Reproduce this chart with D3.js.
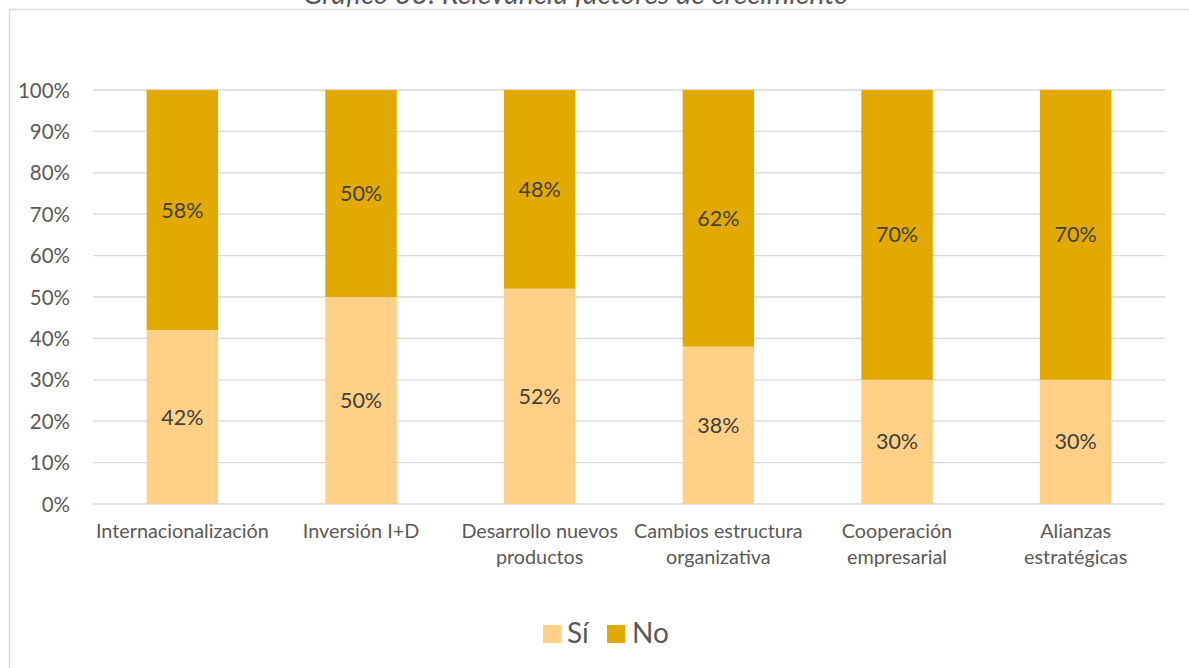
<!DOCTYPE html>
<html>
<head>
<meta charset="utf-8">
<script src="https://cdn.jsdelivr.net/npm/d3@7"></script>
<style>
  html, body { margin: 0; padding: 0; background: #fff; }
  svg { display: block; font-family: Lato, "Open Sans", sans-serif; }
</style>
</head>
<body>
<svg id="chart" width="1189" height="668"></svg>
<script>
// Growth factors and the share answering yes / no
const categories = [
  ["Internacionalización"],
  ["Inversión I+D"],
  ["Desarrollo nuevos", "productos"],
  ["Cambios estructura", "organizativa"],
  ["Cooperación", "empresarial"],
  ["Alianzas", "estratégicas"]
];
const siValues = [42, 50, 52, 38, 30, 30];
const noValues = [58, 50, 48, 62, 70, 70];
const seriesNames = ["Sí", "No"];
const seriesColors = ["#FFD086", "#E2AA00"];
const yTicks = [0, 10, 20, 30, 40, 50, 60, 70, 80, 90, 100];
const titleText = "Gráfico 33: Relevancia factores de crecimiento";

const svg = d3.select("#chart");

// outer chart frame
svg.append("rect")
  .attr("x", 9.5).attr("y", 9.5)
  .attr("width", 1300).attr("height", 800)
  .attr("fill", "#fff")
  .attr("stroke", "#d9d9d9").attr("stroke-width", 1.5);

// title
svg.append("text")
  .attr("x", 576).attr("y", 4)
  .attr("text-anchor", "middle")
  .attr("font-style", "italic")
  .attr("font-size", 28.5)
  .attr("fill", "#595959")
  .text(titleText);

const plot = { left: 93, right: 1165, top: 90, bottom: 504 };

const x = d3.scaleBand()
  .domain(d3.range(categories.length))
  .range([plot.left, plot.right])
  .paddingInner(0.6).paddingOuter(0.3);

const y = d3.scaleLinear().domain([0, 100]).range([plot.bottom, plot.top]);

// gridlines
svg.append("g")
  .selectAll("line")
  .data(yTicks)
  .join("line")
  .attr("x1", plot.left).attr("x2", plot.right)
  .attr("y1", d => y(d)).attr("y2", d => y(d))
  .attr("stroke", "#d9d9d9").attr("stroke-width", 1.3);

// y axis labels
const yAxis = d3.axisLeft(y).tickValues(yTicks).tickFormat(d => d + "%").tickSize(0).tickPadding(0);
const yg = svg.append("g").attr("transform", `translate(${plot.left - 23},0)`).call(yAxis);
yg.select(".domain").remove();
yg.selectAll("text")
  .attr("font-family", "Lato, 'Open Sans', sans-serif")
  .attr("font-size", 20.5)
  .attr("fill", "#595959")
  .attr("dy", "0.35em");

// stacked data
const rows = categories.map((c, i) => ({ i, si: siValues[i], no: noValues[i] }));
const stack = d3.stack().keys(["si", "no"]);
const layers = stack(rows);

const gBars = svg.append("g");
layers.forEach((layer, li) => {
  gBars.append("g")
    .selectAll("rect")
    .data(layer)
    .join("rect")
    .attr("x", d => x(d.data.i))
    .attr("width", x.bandwidth())
    .attr("y", d => y(d[1]))
    .attr("height", d => y(d[0]) - y(d[1]))
    .attr("fill", seriesColors[li]);

  gBars.append("g")
    .selectAll("text")
    .data(layer)
    .join("text")
    .attr("x", d => x(d.data.i) + x.bandwidth() / 2)
    .attr("y", d => (y(d[0]) + y(d[1])) / 2)
    .attr("dy", "0.35em")
    .attr("text-anchor", "middle")
    .attr("font-size", 21.5)
    .attr("fill", "#404040")
    .text(d => (d[1] - d[0]) + "%");
});

// category labels
const gx = svg.append("g");
categories.forEach((lines, i) => {
  const t = gx.append("text")
    .attr("text-anchor", "middle")
    .attr("font-size", 19.8)
    .attr("fill", "#595959");
  lines.forEach((ln, k) => {
    t.append("tspan")
      .attr("x", x(i) + x.bandwidth() / 2)
      .attr("y", 538 + k * 26)
      .text(ln);
  });
});

// legend
const legend = svg.append("g");
const legItems = [
  { name: seriesNames[0], color: seriesColors[0], sx: 543, tx: 567 },
  { name: seriesNames[1], color: seriesColors[1], sx: 607, tx: 632 }
];
legItems.forEach(it => {
  legend.append("rect")
    .attr("x", it.sx).attr("y", 625)
    .attr("width", 18).attr("height", 18)
    .attr("fill", it.color);
  legend.append("text")
    .attr("x", it.tx).attr("y", 643)
    .attr("font-size", 28)
    .attr("fill", "#595959")
    .text(it.name);
});
</script>
</body>
</html>
